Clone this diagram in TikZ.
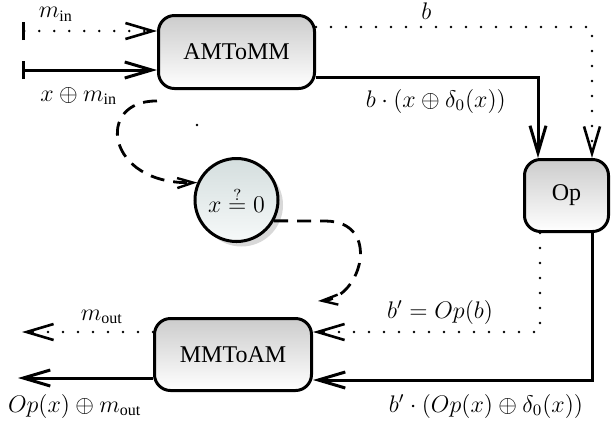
\documentclass[tikz,border=0pt]{standalone}
\usepackage{fontspec}
\setmainfont{Liberation Serif}
\usetikzlibrary{arrows.meta,shadows}
\begin{document}
\begin{tikzpicture}[x=0.5pt,y=-0.5pt,
  font=\fontsize{12}{14}\selectfont,
  >={Straight Barb[length=13.5pt,width=8pt]},
  box/.style={draw, line width=1.5pt, rounded corners=8pt, top color=black!20, bottom color=white, inner sep=0pt},
  circ/.style={circle, draw, line width=1.5pt, inner sep=0pt,
    top color={rgb,255:red,212;green,222;blue,222}, bottom color={rgb,255:red,246;green,249;blue,249},
    drop shadow={shadow xshift=2.5pt, shadow yshift=-2.5pt, fill=black!30}},
  soll/.style={line width=1.5pt},
  dotl/.style={line width=1.3pt, line cap=round, dash pattern=on 0pt off 7.5pt},
  dashl/.style={line width=1.4pt, dash pattern=on 7pt off 4.5pt},
  dasharrow/.style={-{Straight Barb[length=8pt,width=5pt,line width=1.2pt]}},
  startbar/.style={{Bar[width=9pt,line width=1.5pt]}-{>}}
]
\useasboundingbox (0,0) rectangle (611,420);

\node[box, minimum width=78pt, minimum height=36.5pt] (A) at (236.5,52) {AMToMM};
\node[box, minimum width=42pt, minimum height=36pt] (Op) at (566.5,195.5) {Op};
\node[box, minimum width=78.5pt, minimum height=36pt] (M) at (233,354.5) {MMToAM};
\node[circ, minimum size=41.5pt] (C) at (236.5,200) {$x \stackrel{?}{=} 0$};

\coordinate (minS) at (22,31);
\coordinate (xS) at (22,70);
\coordinate (bC) at (592,27);
\coordinate (bxC) at (538,77);
\coordinate (d1) at (157,101);
\coordinate (d2) at (318,301);
\coordinate (bpC) at (540,332);
\coordinate (bpxC) at (592,380);
\coordinate (mout) at (22,332);
\coordinate (opout) at (18,378);

\draw[dotl, startbar] (minS) -- node[above=1pt, pos=0.25] {$m_{\mathrm{in}}$} (minS -| A.west);
\draw[soll, startbar] (xS) -- node[below=4.5pt, pos=0.42] {$x \oplus m_{\mathrm{in}}$} (xS -| A.west);
\draw[dotl, ->] (A.east |- bC) -| node[above, pos=0.2] {$b$} (Op.north -| bC);
\draw[soll, ->] (A.east |- bxC) -| node[below=2pt, pos=0.27] {$b\cdot(x\oplus\delta_0(x))$} (Op.north -| bxC);
\draw[dashl, dasharrow] (d1) .. controls (95,100) and (105,185) .. (C.156);
\draw[dashl, dasharrow] (C.-29) -- (325,221) .. controls (382,221) and (362,298) .. (d2);
\draw[dotl, ->] (Op.south -| bpC) |- node[above, pos=0.72] {$b' = Op(b)$} (M.east |- bpC);
\draw[soll, ->] (Op.south -| bpxC) |- node[below=3pt, pos=0.69] {$b'\cdot(Op(x)\oplus\delta_0(x))$} (M.east |- bpxC);
\draw[dotl, ->] (M.west |- mout) -- node[above, pos=0.39] {$m_{\mathrm{out}}$} (mout);
\draw[soll, ->] (M.west |- opout) -- node[below=4pt, pos=0.58] {$Op(x)\oplus m_{\mathrm{out}}$} (opout);
\fill (197,125) circle (0.7pt);
\end{tikzpicture}
\end{document}
